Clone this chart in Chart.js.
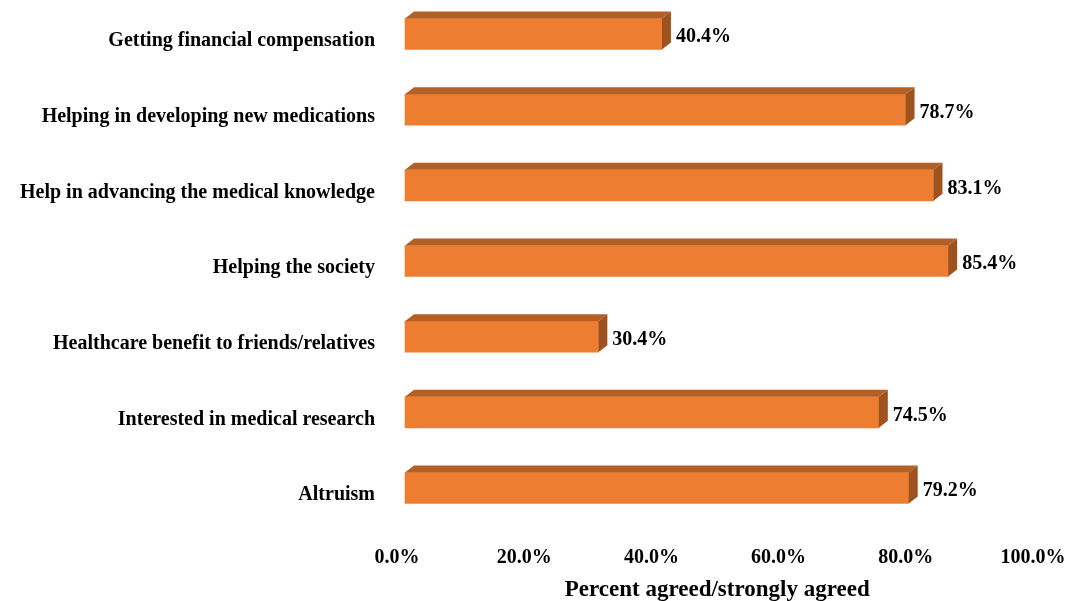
<!DOCTYPE html>
<html lang="en">

<head>
    <meta charset="UTF-8">
    <title>Reasons for participation</title>
    <script src="https://cdn.jsdelivr.net/npm/chart.js"></script>
    <style>
        html, body {
            margin: 0;
            padding: 0;
            background: #ffffff;
        }

        .wrap {
            position: relative;
            width: 1068px;
            height: 601px;
        }
    </style>
</head>

<body>
    <div class="wrap">
        <canvas id="myChart"></canvas>
    </div>

    <script>
        // categories top to bottom, as in the picture
        var categories = [
            'Getting financial compensation',
            'Helping in developing new medications',
            'Help in advancing the medical knowledge',
            'Helping the society',
            'Healthcare benefit to friends/relatives',
            'Interested in medical research',
            'Altruism'
        ];
        var agreedPercent = [40.4, 78.7, 83.1, 85.4, 30.4, 74.5, 79.2];
        var xTicks = [0, 20, 40, 60, 80, 100];
        var axisTitle = 'Percent agreed/strongly agreed';

        // depth of the fake 3d box
        var depthX = 9;
        var depthY = 7;

        // top + side faces and the value labels
        var box3d = {
            id: 'box3d',
            afterDatasetsDraw: function (chart) {
                var ctx = chart.ctx;
                var meta = chart.getDatasetMeta(0);
                ctx.save();
                meta.data.forEach(function (bar, i) {
                    var p = bar.getProps(['x', 'y', 'base', 'height'], true);
                    var top = p.y - p.height / 2;
                    var bottom = p.y + p.height / 2;

                    // top face
                    ctx.fillStyle = '#B45F26';
                    ctx.beginPath();
                    ctx.moveTo(p.base, top);
                    ctx.lineTo(p.x, top);
                    ctx.lineTo(p.x + depthX, top - depthY);
                    ctx.lineTo(p.base + depthX, top - depthY);
                    ctx.closePath();
                    ctx.fill();

                    // right face
                    ctx.fillStyle = '#9E521F';
                    ctx.beginPath();
                    ctx.moveTo(p.x, top);
                    ctx.lineTo(p.x + depthX, top - depthY);
                    ctx.lineTo(p.x + depthX, bottom - depthY);
                    ctx.lineTo(p.x, bottom);
                    ctx.closePath();
                    ctx.fill();

                    // value label
                    ctx.fillStyle = '#000000';
                    ctx.font = 'bold 20px "Liberation Serif", "Times New Roman", serif';
                    ctx.textAlign = 'left';
                    ctx.textBaseline = 'middle';
                    ctx.fillText(agreedPercent[i].toFixed(1) + '%', p.x + 14, p.y + 3);
                });
                ctx.restore();
            }
        };

        Chart.defaults.font.family = '"Liberation Serif", "Times New Roman", serif';
        Chart.defaults.font.weight = 'bold';
        Chart.defaults.font.size = 20;
        Chart.defaults.color = '#000000';

        var ctx = document.getElementById('myChart').getContext('2d');
        var myChart = new Chart(ctx, {
            type: 'bar',
            data: {
                labels: categories,
                datasets: [{
                    label: axisTitle,
                    data: agreedPercent,
                    backgroundColor: '#ED7D31',
                    borderWidth: 0,
                    barThickness: 31,
                    clip: false
                }]
            },
            options: {
                indexAxis: 'y',
                responsive: true,
                maintainAspectRatio: false,
                animation: false,
                layout: {
                    padding: { top: 31, right: 27, left: 0, bottom: 0 }
                },
                plugins: {
                    legend: { display: false },
                    tooltip: { enabled: false }
                },
                scales: {
                    x: {
                        min: 0,
                        max: 100,
                        afterBuildTicks: function (scale) {
                            scale.ticks = xTicks.map(function (v) { return { value: v }; });
                        },
                        afterFit: function (scale) {
                            scale.height = 113;
                            scale.paddingLeft = 0;
                            scale.paddingRight = 0;
                        },
                        grid: { display: false },
                        border: { display: false },
                        ticks: {
                            padding: 50,
                            labelOffset: -8,
                            maxRotation: 0,
                            callback: function (v) { return Number(v).toFixed(1) + '%'; }
                        },
                        title: {
                            display: true,
                            // trailing spaces nudge the centred title a bit left
                            text: axisTitle + '  ',
                            font: { size: 23, weight: 'bold' },
                            padding: { top: 0, bottom: -3 }
                        }
                    },
                    y: {
                        offset: false,
                        afterFit: function (scale) {
                            scale.width = 405;
                        },
                        grid: { display: false },
                        border: { display: false },
                        ticks: {
                            padding: 22,
                            labelOffset: 7,
                            autoSkip: false
                        }
                    }
                }
            },
            plugins: [box3d]
        });
    </script>
</body>

</html>
